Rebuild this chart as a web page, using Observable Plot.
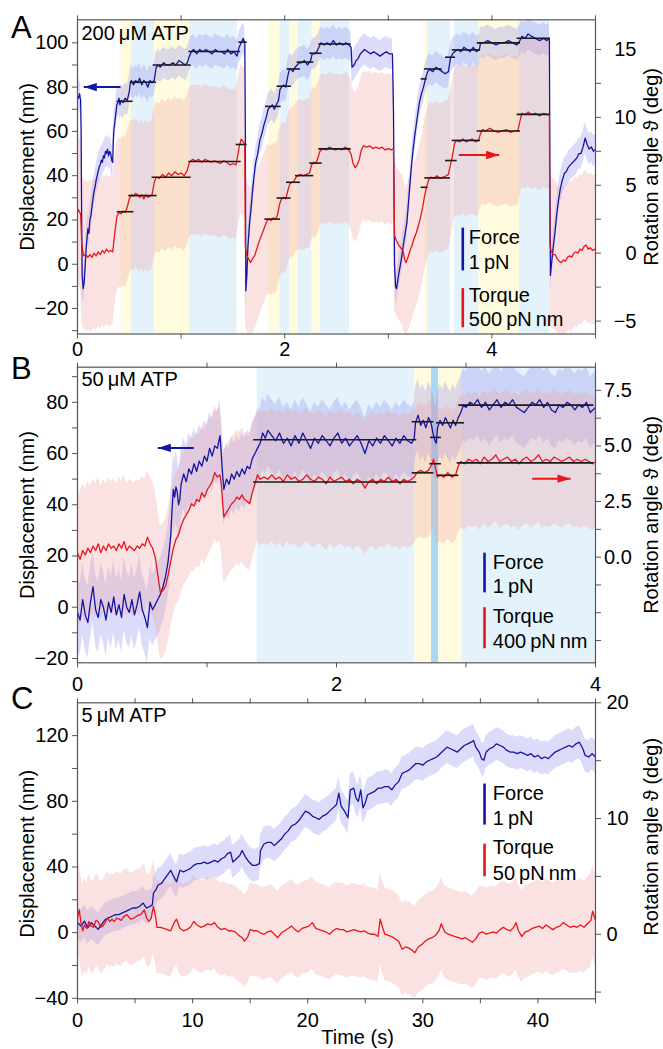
<!DOCTYPE html>
<html><head><meta charset="utf-8">
<script src="https://cdn.jsdelivr.net/npm/d3@7"></script>
<script src="https://cdn.jsdelivr.net/npm/@observablehq/plot@0.6"></script>
<style>
body{margin:0;background:#fff;}
#fig{position:relative;width:663px;height:1049px;overflow:hidden;}
#fig svg{position:absolute;left:0;}
</style></head><body><div id="fig"></div>
<script>
// ---------------- Panel A (200 µM ATP) ----------------
const aSpans = [[0.422,0.521,"y"],[0.521,0.743,"b"],[0.743,1.084,"y"],[1.084,1.541,"b"],[1.846,1.953,"y"],[1.953,2.046,"b"],[2.046,2.13,"y"],[2.13,2.265,"b"],[2.265,2.345,"y"],[2.345,2.625,"b"],[3.353,3.378,"y"],[3.378,3.6,"b"],[3.639,3.874,"b"],[3.874,4.266,"y"],[4.266,4.556,"b"]];
const aForce = [[0,76],[0.01,75],[0.02,77],[0.03,74],[0.035,60],[0.04,20],[0.045,-5],[0.055,-11],[0.065,-8],[0.075,0],[0.085,8],[0.1,16],[0.11,14],[0.12,20],[0.13,22],[0.14,26],[0.15,30],[0.16,33],[0.17,35],[0.18,38],[0.19,40],[0.2,42],[0.21,44],[0.22,45],[0.23,47],[0.24,46],[0.25,49],[0.26,48],[0.27,51],[0.28,50],[0.29,52],[0.3,49],[0.31,51],[0.32,50],[0.33,47],[0.34,46],[0.345,55],[0.35,60],[0.36,64],[0.37,68],[0.38,72],[0.39,73],[0.4,75],[0.41,72],[0.42,74],[0.44,73],[0.46,75],[0.48,74],[0.5,78],[0.51,82],[0.52,83],[0.54,81],[0.56,83],[0.58,82],[0.6,84],[0.62,81],[0.64,83],[0.66,82],[0.68,80],[0.7,83],[0.72,82],[0.74,83],[0.75,86],[0.76,89],[0.78,90],[0.8,89],[0.83,91],[0.86,90],[0.89,90],[0.92,91],[0.95,90],[0.98,92],[1.01,91],[1.04,90],[1.06,91],[1.08,94],[1.1,96],[1.12,97],[1.15,95],[1.18,97],[1.21,96],[1.24,97],[1.27,96],[1.3,95],[1.33,97],[1.36,96],[1.39,96],[1.42,95],[1.45,97],[1.48,95],[1.51,96],[1.54,94],[1.56,98],[1.58,100],[1.6,102],[1.615,100],[1.62,60],[1.625,-12],[1.635,-5],[1.645,8],[1.66,18],[1.675,25],[1.69,33],[1.7,38],[1.72,46],[1.74,50],[1.76,56],[1.78,59],[1.8,63],[1.82,66],[1.84,70],[1.86,71],[1.88,72],[1.9,70],[1.92,72],[1.94,74],[1.955,79],[1.97,80],[1.99,81],[2.01,80],[2.03,85],[2.045,88],[2.06,88],[2.08,87],[2.1,89],[2.12,90],[2.14,91],[2.16,91],[2.19,92],[2.22,90],[2.25,92],[2.265,95],[2.29,95],[2.31,96],[2.33,98],[2.35,100],[2.38,99],[2.41,100],[2.44,99],[2.47,101],[2.5,99],[2.53,100],[2.56,99],[2.59,100],[2.62,99],[2.64,98],[2.65,89],[2.67,90],[2.69,92],[2.71,93],[2.73,95],[2.75,96],[2.77,97],[2.8,96],[2.83,95],[2.86,96],[2.89,95],[2.92,94],[2.95,95],[2.98,96],[3.01,95],[3.04,95],[3.05,70],[3.06,0],[3.07,-10],[3.08,-11],[3.095,-6],[3.11,-2],[3.125,2],[3.14,7],[3.16,13],[3.18,19],[3.195,28],[3.21,37],[3.225,45],[3.24,52],[3.255,58],[3.27,63],[3.285,68],[3.3,73],[3.32,77],[3.34,80],[3.36,84],[3.38,87],[3.4,88],[3.43,87],[3.46,89],[3.49,88],[3.52,87],[3.55,86],[3.58,87],[3.6,93],[3.62,95],[3.64,96],[3.67,97],[3.7,96],[3.73,98],[3.76,97],[3.79,96],[3.82,98],[3.85,96],[3.88,97],[3.89,100],[3.92,100],[3.96,101],[4,100],[4.04,99],[4.08,100],[4.12,100],[4.16,101],[4.2,100],[4.24,99],[4.27,101],[4.29,103],[4.32,102],[4.35,104],[4.38,103],[4.42,102],[4.46,101],[4.5,102],[4.53,101],[4.555,102],[4.56,40],[4.565,-5],[4.575,0],[4.59,7],[4.61,15],[4.625,22],[4.64,28],[4.66,34],[4.68,38],[4.7,41],[4.72,42],[4.74,44],[4.76,45],[4.78,46],[4.8,47],[4.82,48],[4.84,50],[4.86,50],[4.88,53],[4.9,57],[4.92,54],[4.94,52],[4.96,53],[4.98,51],[5,52]];
const aTorque = [[0,3.1],[0.01,3.2],[0.02,3.0],[0.03,2.9],[0.035,2.0],[0.04,0.8],[0.05,0.2],[0.06,-0.2],[0.08,-0.1],[0.1,-0.3],[0.12,-0.1],[0.14,-0.3],[0.16,0],[0.18,-0.2],[0.2,0.1],[0.22,-0.1],[0.24,0.2],[0.26,0],[0.28,0.3],[0.3,0.1],[0.32,0.2],[0.34,0.1],[0.36,1.5],[0.38,2.7],[0.4,3.0],[0.42,2.9],[0.44,3.1],[0.46,3.0],[0.48,3.4],[0.5,4.0],[0.52,4.3],[0.54,4.2],[0.56,4.4],[0.58,4.3],[0.6,4.1],[0.62,4.3],[0.64,4.0],[0.66,4.3],[0.68,4.1],[0.7,4.2],[0.72,4.3],[0.74,5.2],[0.76,5.6],[0.79,5.5],[0.82,5.8],[0.85,5.6],[0.88,5.9],[0.91,5.7],[0.94,6.0],[0.97,5.8],[1,5.9],[1.03,5.7],[1.06,6.1],[1.08,6.7],[1.11,6.9],[1.14,6.8],[1.17,6.9],[1.2,6.7],[1.23,6.9],[1.26,6.8],[1.29,6.7],[1.32,6.8],[1.35,6.7],[1.38,6.6],[1.41,6.8],[1.44,6.7],[1.47,6.5],[1.5,6.6],[1.53,6.5],[1.545,7.1],[1.56,7.8],[1.58,8.4],[1.6,8.2],[1.615,8.0],[1.62,0.5],[1.63,-0.1],[1.65,-0.4],[1.67,-0.7],[1.69,-0.4],[1.71,-0.2],[1.73,0.3],[1.75,0.8],[1.77,1.2],[1.79,1.6],[1.81,2.0],[1.83,2.4],[1.85,2.5],[1.87,2.4],[1.89,2.6],[1.91,2.5],[1.93,2.8],[1.95,3.6],[1.97,4.0],[1.99,4.1],[2.01,4.0],[2.03,4.6],[2.05,5.1],[2.07,5.2],[2.09,5.3],[2.11,5.6],[2.13,5.7],[2.15,5.8],[2.18,5.7],[2.21,5.8],[2.24,5.9],[2.26,6.5],[2.28,6.7],[2.3,6.6],[2.32,7.0],[2.34,7.5],[2.37,7.7],[2.4,7.6],[2.43,7.8],[2.46,7.7],[2.49,7.6],[2.52,7.7],[2.55,7.6],[2.58,7.8],[2.61,7.7],[2.64,7.3],[2.66,6.6],[2.68,6.3],[2.7,6.5],[2.72,6.9],[2.74,7.6],[2.76,7.9],[2.79,7.8],[2.82,7.9],[2.85,7.7],[2.88,7.8],[2.91,7.7],[2.94,7.8],[2.97,7.6],[3,7.7],[3.03,7.6],[3.05,7.7],[3.06,1.3],[3.08,0.9],[3.1,0.6],[3.12,0.4],[3.14,0.2],[3.16,-0.5],[3.17,-0.7],[3.19,-0.3],[3.21,0.2],[3.23,0.6],[3.25,1.1],[3.27,1.5],[3.29,2.0],[3.31,2.6],[3.33,3.3],[3.35,4.2],[3.37,4.9],[3.39,5.4],[3.41,5.6],[3.44,5.5],[3.47,5.7],[3.5,5.5],[3.53,5.6],[3.56,5.7],[3.58,5.8],[3.6,6.5],[3.62,7.2],[3.64,8.1],[3.66,8.3],[3.69,8.2],[3.72,8.4],[3.75,8.2],[3.78,8.3],[3.81,8.4],[3.84,8.2],[3.87,8.3],[3.89,8.8],[3.91,9.1],[3.94,9.0],[3.98,9.2],[4.02,9.0],[4.06,8.9],[4.1,9.0],[4.14,9.1],[4.18,8.9],[4.22,9.0],[4.25,9.0],[4.27,9.7],[4.29,10.3],[4.32,10.2],[4.35,10.4],[4.38,10.2],[4.42,10.3],[4.46,10.1],[4.5,10.3],[4.53,10.2],[4.555,10.2],[4.56,0.6],[4.57,0.2],[4.59,-0.1],[4.61,-0.1],[4.63,-0.4],[4.65,-0.6],[4.67,-0.7],[4.69,-0.5],[4.71,-0.6],[4.73,-0.3],[4.75,-0.2],[4.77,-0.3],[4.79,0],[4.81,0.1],[4.83,0],[4.85,0.3],[4.87,0.2],[4.89,0.5],[4.91,0.6],[4.93,0.3],[4.95,0.4],[4.97,0.2],[5,0.3]];
const aForceSteps = [[0.383,0.537,73.6],[0.511,0.762,82.2],[0.73,1.097,90.0],[1.075,1.573,96.1],[1.557,1.638,100.3],[1.815,1.966,71.3],[1.927,2.066,80.4],[2.024,2.152,88.2],[2.12,2.281,91.3],[2.242,2.361,95.3],[2.329,2.642,99.5],[3.317,3.375,83.7],[3.349,3.52,88.2],[3.552,3.649,93.5],[3.617,3.89,96.8],[3.858,4.276,100.0],[4.244,4.566,102.1]];
const aTorqueSteps = [[0.383,0.544,3.05],[0.495,0.769,4.24],[0.72,1.097,5.59],[1.075,1.58,6.75],[1.532,1.638,8.0],[1.808,1.96,2.51],[1.927,2.062,4.06],[2.017,2.152,5.22],[2.104,2.281,5.71],[2.242,2.361,6.63],[2.329,2.642,7.68],[3.317,3.385,4.85],[3.352,3.6,5.54],[3.552,3.665,6.82],[3.617,3.89,8.3],[3.858,4.276,8.99],[4.244,4.566,10.22]];
const aArrows = [{from:0.415,to:0.061,v:80,side:"left",c:"force"},{from:3.68,to:4.07,v:7.23,side:"right",c:"torque"}];
const aLegendBars = [{t:3.719,v1:16.3,v2:-3.0,c:"force"},{t:3.719,v1:-11,v2:-28.7,c:"torque"}];
const aLegendText = [{t:3.777,v:12.0,s:"Force"},{t:3.777,v:0.7,s:"1\u2009pN"},{t:3.777,v:-14,s:"Torque"},{t:3.777,v:-25.2,s:"500\u2009pN\u2009nm"}];

// ---------------- Panel B (50 µM ATP) ----------------
const bSpans = [[1.388,2.605,"b"],[2.605,2.734,"y"],[2.734,2.79,"d"],[2.79,2.97,"y"],[2.97,4.0,"b"]];
const bForce = [[0,-2],[0.02,-5],[0.04,3],[0.06,-3],[0.08,-6],[0.1,2],[0.12,8],[0.14,-1],[0.16,-4],[0.18,3],[0.2,0],[0.22,-5],[0.24,2],[0.26,-2],[0.28,4],[0.3,-3],[0.32,1],[0.34,-4],[0.36,5],[0.38,0],[0.4,-2],[0.42,3],[0.44,-3],[0.46,1],[0.48,6],[0.5,-1],[0.52,-4],[0.54,-8],[0.56,2],[0.58,-1],[0.6,1],[0.62,3],[0.64,5],[0.66,8],[0.68,12],[0.7,18],[0.72,28],[0.73,38],[0.74,46],[0.75,43],[0.76,47],[0.77,45],[0.78,40],[0.79,42],[0.8,48],[0.82,52],[0.84,49],[0.86,54],[0.88,52],[0.9,56],[0.92,53],[0.94,57],[0.96,55],[0.98,59],[1,57],[1.02,62],[1.04,59],[1.06,63],[1.08,62],[1.1,67],[1.11,60],[1.12,52],[1.13,46],[1.15,50],[1.17,48],[1.19,52],[1.21,50],[1.23,53],[1.25,51],[1.27,54],[1.29,52],[1.31,55],[1.33,54],[1.35,58],[1.37,60],[1.39,62],[1.41,64],[1.43,68],[1.45,66],[1.47,69],[1.5,67],[1.53,65],[1.56,68],[1.59,64],[1.62,66],[1.65,63],[1.68,67],[1.71,64],[1.74,68],[1.77,65],[1.8,62],[1.83,66],[1.86,64],[1.89,67],[1.92,65],[1.95,63],[1.98,66],[2.01,68],[2.04,64],[2.07,66],[2.1,63],[2.13,65],[2.16,67],[2.19,64],[2.22,60],[2.25,65],[2.28,63],[2.31,66],[2.34,64],[2.37,67],[2.4,65],[2.43,63],[2.46,66],[2.49,64],[2.52,67],[2.55,65],[2.58,64],[2.6,66],[2.61,72],[2.63,75],[2.65,71],[2.67,73],[2.69,70],[2.71,74],[2.73,72],[2.745,68],[2.76,65],[2.77,64],[2.78,70],[2.8,73],[2.82,71],[2.84,74],[2.86,72],[2.88,70],[2.9,73],[2.92,71],[2.94,74],[2.96,76],[2.98,79],[3,78],[3.03,80],[3.06,79],[3.09,81],[3.12,78],[3.15,80],[3.18,77],[3.21,79],[3.24,81],[3.27,78],[3.3,80],[3.33,79],[3.36,81],[3.39,78],[3.42,77],[3.45,76],[3.48,78],[3.51,80],[3.54,79],[3.57,81],[3.6,78],[3.63,80],[3.66,77],[3.69,76],[3.72,79],[3.75,78],[3.78,80],[3.81,79],[3.84,77],[3.87,79],[3.9,78],[3.93,80],[3.96,76],[4,78]];
const bTorque = [[0,0.2],[0.02,-0.1],[0.04,0.3],[0.06,0.1],[0.08,0.4],[0.1,0.2],[0.12,0.5],[0.14,0.3],[0.16,0.6],[0.18,0.2],[0.2,0.5],[0.22,0.3],[0.24,0.6],[0.26,0.4],[0.28,0.5],[0.3,0.3],[0.32,0.6],[0.34,0.4],[0.36,0.7],[0.38,0.3],[0.4,0.5],[0.42,0.4],[0.44,0.3],[0.46,0.5],[0.48,0.4],[0.5,0.6],[0.52,0.5],[0.54,0.9],[0.56,0.6],[0.58,0.4],[0.6,0],[0.62,-0.8],[0.64,-1.6],[0.66,-1.5],[0.68,-1.3],[0.7,-0.8],[0.72,-0.2],[0.74,0.4],[0.76,0.8],[0.78,1.0],[0.8,1.4],[0.82,1.7],[0.84,1.9],[0.86,2.1],[0.88,2.4],[0.9,2.3],[0.92,2.6],[0.94,2.5],[0.96,2.9],[0.98,2.7],[1,3.0],[1.02,3.2],[1.04,3.4],[1.06,3.8],[1.08,3.6],[1.1,3.7],[1.11,3.3],[1.12,2.5],[1.13,1.8],[1.15,2.0],[1.17,2.2],[1.19,2.4],[1.21,2.5],[1.23,2.7],[1.25,2.6],[1.27,2.8],[1.29,2.6],[1.31,2.5],[1.33,2.4],[1.35,2.9],[1.37,3.3],[1.39,3.7],[1.41,3.5],[1.44,3.6],[1.47,3.5],[1.5,3.7],[1.53,3.5],[1.56,3.6],[1.59,3.4],[1.62,3.7],[1.65,3.5],[1.68,3.6],[1.71,3.4],[1.74,3.5],[1.77,3.7],[1.8,3.5],[1.83,3.4],[1.86,3.6],[1.89,3.5],[1.92,3.3],[1.95,3.6],[1.98,3.4],[2.01,3.5],[2.04,3.6],[2.07,3.4],[2.1,3.5],[2.13,3.3],[2.16,3.5],[2.19,3.4],[2.22,3.1],[2.25,3.4],[2.28,3.5],[2.31,3.3],[2.34,3.5],[2.37,3.4],[2.4,3.6],[2.43,3.4],[2.46,3.5],[2.49,3.3],[2.52,3.5],[2.55,3.4],[2.58,3.5],[2.6,3.6],[2.62,3.8],[2.65,3.9],[2.68,3.8],[2.71,3.9],[2.73,4.1],[2.75,4.4],[2.765,4.0],[2.78,3.6],[2.8,3.7],[2.83,3.6],[2.86,3.8],[2.89,3.6],[2.92,3.7],[2.94,4.1],[2.96,4.3],[2.99,4.2],[3.02,4.4],[3.05,4.3],[3.08,4.4],[3.11,4.2],[3.14,4.5],[3.17,4.3],[3.2,4.4],[3.23,4.6],[3.26,4.3],[3.29,4.4],[3.32,4.5],[3.35,4.3],[3.38,4.4],[3.41,4.2],[3.44,4.4],[3.47,4.5],[3.5,4.3],[3.53,4.4],[3.56,4.6],[3.59,4.3],[3.62,4.4],[3.65,4.3],[3.68,4.5],[3.71,4.4],[3.74,4.3],[3.77,4.4],[3.8,4.5],[3.83,4.3],[3.86,4.4],[3.89,4.3],[3.92,4.4],[3.95,4.3],[3.98,4.2],[4,4.3]];
const bForceSteps = [[1.36,2.62,65.4],[2.584,2.752,72.4],[2.726,2.81,66.3],[2.772,2.989,72.0],[2.945,3.987,78.9]];
const bTorqueSteps = [[1.36,2.62,3.38],[2.584,2.752,3.79],[2.721,2.81,4.2],[2.777,2.945,3.68],[2.932,3.987,4.24]];
const bArrows = [{from:0.898,to:0.62,v:62.2,side:"left",c:"force"},{from:3.511,to:3.807,v:3.53,side:"right",c:"torque"}];
const bLegendBars = [{t:3.143,v1:21.1,v2:5.6,c:"force"},{t:3.143,v1:-0.2,v2:-16.2,c:"torque"}];
const bLegendText = [{t:3.207,v:17.6,s:"Force"},{t:3.207,v:8.1,s:"1\u2009pN"},{t:3.207,v:-3.6,s:"Torque"},{t:3.207,v:-13.4,s:"400\u2009pN\u2009nm"}];

// ---------------- Panel C (5 µM ATP) ----------------
const cForce = [[0,6],[0.3,4],[0.6,7],[0.9,3],[1.2,6],[1.5,4],[1.8,2],[2.1,5],[2.4,8],[2.7,9],[3,10],[3.3,11],[3.6,11],[3.9,12],[4.2,13],[4.5,14],[4.8,15],[5.1,15],[5.4,16],[5.7,18],[6,15],[6.3,16],[6.5,17],[6.6,24],[6.8,26],[7,29],[7.3,30],[7.6,33],[7.9,36],[8.1,38],[8.3,35],[8.6,31],[8.9,38],[9.2,37],[9.5,38],[9.8,39],[10.1,41],[10.4,42],[10.7,42],[11,43],[11.3,42],[11.6,43],[11.9,44],[12.2,43],[12.5,45],[12.8,46],[13,48],[13.3,49],[13.5,43],[13.8,45],[14.1,47],[14.3,50],[14.6,46],[14.9,43],[15.2,41],[15.5,41],[15.8,42],[15.9,50],[16.2,54],[16.5,55],[16.8,55],[17.1,53],[17.4,55],[17.7,57],[18,60],[18.3,62],[18.6,65],[18.9,66],[19.2,68],[19.5,71],[19.8,74],[20.1,73],[20.4,71],[20.7,70],[21,69],[21.3,71],[21.6,72],[21.9,74],[22.2,76],[22.5,78],[22.7,85],[22.9,77],[23.2,74],[23.5,70],[23.7,87],[24,88],[24.2,82],[24.4,80],[24.6,87],[24.8,76],[25,79],[25.2,84],[25.5,85],[25.8,86],[26.1,88],[26.4,88],[26.7,89],[27,89],[27.3,87],[27.6,90],[27.9,92],[28.2,97],[28.5,98],[28.8,99],[29.1,101],[29.4,103],[29.7,103],[30,102],[30.3,104],[30.6,105],[30.9,106],[31.2,107],[31.5,109],[31.8,111],[32.1,113],[32.4,112],[32.7,111],[33,110],[33.3,112],[33.6,114],[33.9,115],[34.2,116],[34.4,117],[34.6,113],[34.9,110],[35.1,106],[35.3,105],[35.5,110],[35.8,112],[36.1,113],[36.4,115],[36.7,114],[37,113],[37.3,111],[37.6,110],[37.9,110],[38.2,109],[38.5,110],[38.8,109],[39.1,108],[39.4,109],[39.7,107],[40,108],[40.3,106],[40.6,107],[40.9,106],[41.2,108],[41.5,110],[41.8,111],[42.1,112],[42.4,113],[42.7,114],[43,113],[43.3,115],[43.6,116],[43.9,112],[44.1,108],[44.4,107],[44.7,109],[45,107]];
const cTorque = [[0,1.4],[0.15,2.1],[0.3,1.0],[0.45,0.3],[0.6,0.8],[0.8,0.5],[1,1.1],[1.2,0.7],[1.4,0.6],[1.6,1.2],[1.8,1.1],[2,0.6],[2.2,0.7],[2.4,1.0],[2.6,1.4],[2.8,1.1],[3,1.3],[3.2,1.1],[3.4,1.4],[3.6,1.3],[3.8,1.2],[4,1.5],[4.3,1.7],[4.6,1.3],[4.9,1.4],[5.2,1.6],[5.5,1.7],[5.8,2.1],[6,1.4],[6.2,1.1],[6.4,1.4],[6.6,2.4],[6.8,1.4],[6.9,0.6],[7.2,0.6],[7.5,0.5],[7.8,0.4],[8.1,0.3],[8.4,1.0],[8.6,1.3],[8.9,0.5],[9.2,0.3],[9.5,0.4],[9.8,0.6],[10.1,1.1],[10.4,0.8],[10.7,0.6],[11,0.7],[11.3,0.9],[11.6,0.8],[11.9,1.0],[12.2,0.6],[12.5,0.4],[12.8,0.5],[13.1,0.3],[13.4,0.3],[13.7,0.2],[14,-0.1],[14.3,-0.3],[14.5,-0.6],[14.8,-0.2],[15,0.4],[15.3,0.3],[15.6,0.3],[15.9,0.1],[16.2,0],[16.5,0.2],[16.8,0.3],[17.1,0],[17.4,-0.3],[17.7,0.1],[18,0.3],[18.3,0.5],[18.6,0.7],[18.9,0.4],[19.2,0.2],[19.5,0.5],[19.8,0.6],[20.1,0.7],[20.4,1.0],[20.7,0.5],[21,0.4],[21.3,0.3],[21.6,0.2],[21.9,0],[22.2,0.3],[22.5,0.5],[22.8,0.4],[23.1,0.4],[23.4,0.2],[23.7,0.3],[24,0.4],[24.3,0.3],[24.6,0.2],[24.9,0.3],[25.2,0.1],[25.5,0],[25.8,0],[26.1,-0.2],[26.3,1.3],[26.5,0.6],[26.7,0],[27,-0.1],[27.3,-0.2],[27.6,-0.4],[27.9,-0.6],[28.2,-1.3],[28.5,-1.1],[28.8,-1.2],[29.1,-1.4],[29.3,-1.6],[29.6,-1.1],[29.9,-0.9],[30.2,-0.6],[30.5,-0.4],[30.8,-0.3],[31.1,-0.1],[31.4,0.3],[31.6,0.9],[31.9,0.2],[32.2,0],[32.5,-0.1],[32.8,-0.2],[33.1,-0.3],[33.4,-0.4],[33.7,-0.3],[34,-0.5],[34.3,-0.7],[34.6,-0.4],[34.9,0.1],[35.2,0.2],[35.5,0],[35.8,0.1],[36.1,0.2],[36.4,0.1],[36.7,0.4],[37,0.6],[37.3,0.4],[37.6,0.3],[37.9,0.6],[38.1,1.0],[38.3,0.3],[38.6,-0.2],[38.9,0.2],[39.2,0.3],[39.5,0.5],[39.8,0.6],[40.1,0.7],[40.4,0.5],[40.7,0.8],[41,0.6],[41.3,0.4],[41.6,0.6],[41.9,0.7],[42.2,1.0],[42.5,0.8],[42.8,0.6],[43.1,0.7],[43.4,0.6],[43.7,0.8],[44,0.6],[44.3,0.9],[44.6,1.2],[44.75,2.0],[45,1.2]];
const cLegendBars = [{t:35.36,v1:90.5,v2:65.5,c:"force"},{t:35.36,v1:53.9,v2:34,c:"torque"}];
const cLegendText = [{t:36.08,v:84.4,s:"Force"},{t:36.08,v:69.2,s:"1\u2009pN"},{t:36.08,v:51.9,s:"Torque"},{t:36.08,v:36,s:"50\u2009pN\u2009nm"}];

// ---------------- Axis ticks ----------------
const aXTicks = [0,1,2,3,4,5], aXLabels = [0,2,4];
const aLeftTicks = [-30,-20,-10,0,10,20,30,40,50,60,70,80,90,100], aLeftLabels = [-20,0,20,40,60,80,100];
const aRightTicks = [-5,-2.5,0,2.5,5,7.5,10,12.5,15], aRightLabels = [-5,0,5,10,15];
const bXTicks = [0,1,2,3,4], bXLabels = [0,2,4];
const bLeftTicks = [-20,-10,0,10,20,30,40,50,60,70,80,90], bLeftLabels = [-20,0,20,40,60,80];
const bRightTicks = [-3.75,-2.5,-1.25,0,1.25,2.5,3.75,5,6.25,7.5], bRightLabels = [0,2.5,5,7.5];
const cXTicks = [0,5,10,15,20,25,30,35,40,45], cXLabels = [0,10,20,30,40];
const cLeftTicks = [-40,-20,0,20,40,60,80,100,120], cLeftLabels = [-40,0,40,80,120];
const cRightTicks = [-5,0,5,10,15,20], cRightLabels = [0,10,20];

// ---------------- Styling ----------------
const COLORS = {force:"#1515a3", torque:"#e8161b", y:"#fffbdf", b:"#e4f3fb", d:"#a9d8f1"};
const FONT = "'Liberation Sans', Arial, Helvetica, sans-serif";
const minus = s => String(s).replace("-", "\u2212");
const headLeft = {draw(ctx){ctx.moveTo(0,0);ctx.lineTo(13,-4.2);ctx.lineTo(13,4.2);ctx.closePath();}};
const headRight = {draw(ctx){ctx.moveTo(0,0);ctx.lineTo(-13,-4.2);ctx.lineTo(-13,4.2);ctx.closePath();}};

function panel(p) {
  const toNm = d3.scaleLinear(p.rightDomain, p.leftDomain);
  const yv = d => d.side === "right" ? toNm(d.v) : d.v;
  const marks = [];
  if (p.spans) marks.push(Plot.rect(p.spans, {x1: d => d[0], x2: d => d[1], fill: d => COLORS[d[2]]}));
  marks.push(
    Plot.area(p.force, {x1: d => d[0], y1: d => d[1] - p.forceSpread, y2: d => d[1] + p.forceSpread, fill: "#9696f0", fillOpacity: 0.33, clip: true}),
    Plot.area(p.torque, {x1: d => d[0], y1: d => toNm(d[1] - p.torqueSpread), y2: d => toNm(d[1] + p.torqueSpread), fill: "#f0a0a0", fillOpacity: 0.3, clip: true}),
    Plot.line(p.force, {x: d => d[0], y: d => d[1], stroke: COLORS.force, strokeWidth: 1.3, clip: true}),
    Plot.line(p.torque, {x: d => d[0], y: d => toNm(d[1]), stroke: COLORS.torque, strokeWidth: 1.3, clip: true})
  );
  if (p.forceSteps) marks.push(
    Plot.ruleY(p.forceSteps, {x1: d => d[0], x2: d => d[1], y: d => d[2], stroke: "#1a1a1a", strokeWidth: 1.6}),
    Plot.ruleY(p.torqueSteps, {x1: d => d[0], x2: d => d[1], y: d => toNm(d[2]), stroke: "#1a1a1a", strokeWidth: 1.6})
  );
  if (p.arrows) marks.push(
    Plot.link(p.arrows, {x1: d => d.from, x2: d => d.to, y1: yv, y2: yv, stroke: d => COLORS[d.c], strokeWidth: 2}),
    Plot.dot(p.arrows.filter(d => d.to < d.from), {x: d => d.to, y: yv, symbol: headLeft, fill: d => COLORS[d.c], stroke: "none", r: 5}),
    Plot.dot(p.arrows.filter(d => d.to > d.from), {x: d => d.to, y: yv, symbol: headRight, fill: d => COLORS[d.c], stroke: "none", r: 5})
  );
  marks.push(
    Plot.ruleX(p.legendBars, {x: "t", y1: "v1", y2: "v2", stroke: d => COLORS[d.c], strokeWidth: 2.6}),
    Plot.text(p.legendText, {x: "t", y: "v", text: "s", textAnchor: "start", lineAnchor: "middle", fontSize: 20, fill: "#000"}),
    Plot.text([p.atp], {text: d => d, frameAnchor: "top-left", dx: 4, dy: p.atpDy, textAnchor: "start", lineAnchor: "middle", fontSize: 20, fill: "#000"}),
    Plot.text([p.letter], {text: d => d, frameAnchor: "top-left", dx: -66.5, dy: p.letterDy, textAnchor: "start", lineAnchor: "top", fontSize: 31, fill: "#000"}),
    Plot.text(["Displacement (nm)"], {text: d => d, frameAnchor: "left", rotate: -90, dx: -58, dy: p.leftLabelDy, textAnchor: "middle", lineAnchor: "top", fontSize: 20, fill: "#000"}),
    Plot.text(["Rotation angle \u03D1 (deg)"], {text: d => d, frameAnchor: "right", rotate: -90, dx: 48, dy: p.rightLabelDy, textAnchor: "middle", lineAnchor: "top", fontSize: 20, fill: "#000"}),
    Plot.frame({stroke: "#555", strokeWidth: 1.2}),
    Plot.axisX({anchor: "bottom", ticks: p.xTicks, tickFormat: d => p.xLabels.includes(d) ? minus(d) : "", tickSize: 5, tickPadding: p.xPad, stroke: "#555", fill: "#000", fontSize: 20, label: null}),
    Plot.axisX({anchor: "top", ticks: p.xTicks, tickFormat: () => "", tickSize: 5, stroke: "#555", label: null}),
    Plot.axisY({anchor: "left", ticks: p.leftTicks, tickFormat: d => p.leftLabels.includes(d) ? minus(d) : "", tickSize: 5, tickPadding: 4, stroke: "#555", fill: "#000", fontSize: 20, label: null}),
    Plot.axisY({anchor: "right", ticks: p.rightTicks.map(toNm), tickFormat: d => {
        const v = Math.round(toNm.invert(d) * 100) / 100;
        return p.rightLabels.includes(v) ? minus(p.rightFmt(v)) : "";
      }, tickSize: 5, tickPadding: p.rightPad, textAnchor: p.rightAnchor, stroke: "#555", fill: "#000", fontSize: 20, label: null})
  );
  if (p.xTitle) marks.push(Plot.text([p.xTitle], {text: d => d, frameAnchor: "bottom", dx: 21, dy: 31, textAnchor: "middle", lineAnchor: "top", fontSize: 20, fill: "#000"}));
  const svg = Plot.plot({
    width: 663, height: p.height,
    marginLeft: 77, marginRight: 68, marginTop: p.mt, marginBottom: p.mb,
    x: {domain: p.xDomain}, y: {domain: p.leftDomain},
    style: {fontFamily: FONT, fontSize: "20px", background: "transparent", overflow: "visible"},
    marks
  });
  svg.style.top = p.top + "px";
  return svg;
}

const fig = document.getElementById("fig");
fig.appendChild(panel({
  top: 0, height: 360, mt: 19.3, mb: 26.5,
  xDomain: [0, 5], leftDomain: [-31.5, 110.4], rightDomain: [-5.95, 17.18],
  spans: aSpans, force: aForce, torque: aTorque, forceSpread: 7, torqueSpread: 5.5,
  forceSteps: aForceSteps, torqueSteps: aTorqueSteps, arrows: aArrows,
  legendBars: aLegendBars, legendText: aLegendText,
  atp: "200\u2009\u03BCM ATP", atpDy: 14, letter: "A", letterDy: -4.3,
  leftLabelDy: -10, rightLabelDy: -10,
  xTicks: aXTicks, xLabels: aXLabels, xPad: 3,
  leftTicks: aLeftTicks, leftLabels: aLeftLabels,
  rightTicks: aRightTicks, rightLabels: aRightLabels, rightFmt: v => String(v), rightPad: 36, rightAnchor: "end"
}));
fig.appendChild(panel({
  top: 340, height: 345, mt: 26.7, mb: 22.7,
  xDomain: [0, 4], leftDomain: [-21.7, 93.7], rightDomain: [-4.75, 8.54],
  spans: bSpans, force: bForce, torque: bTorque, forceSpread: 14, torqueSpread: 3,
  forceSteps: bForceSteps, torqueSteps: bTorqueSteps, arrows: bArrows,
  legendBars: bLegendBars, legendText: bLegendText,
  atp: "50\u2009\u03BCM ATP", atpDy: 12.6, letter: "B", letterDy: -10,
  leftLabelDy: 0, rightLabelDy: 0,
  xTicks: bXTicks, xLabels: bXLabels, xPad: 9,
  leftTicks: bLeftTicks, leftLabels: bLeftLabels,
  rightTicks: bRightTicks, rightLabels: bRightLabels, rightFmt: v => v.toFixed(1), rightPad: 3.5, rightAnchor: "start"
}));
fig.appendChild(panel({
  top: 670, height: 379, mt: 32.3, mb: 50.7,
  xDomain: [0, 45], leftDomain: [-40.3, 140], rightDomain: [-5.58, 20],
  force: cForce, torque: cTorque, forceSpread: 10, torqueSpread: 4,
  legendBars: cLegendBars, legendText: cLegendText,
  atp: "5\u2009\u03BCM ATP", atpDy: 12.7, letter: "C", letterDy: -15.6,
  leftLabelDy: 3, rightLabelDy: -14,
  xTicks: cXTicks, xLabels: cXLabels, xPad: 9, xTitle: "Time (s)",
  leftTicks: cLeftTicks, leftLabels: cLeftLabels,
  rightTicks: cRightTicks, rightLabels: cRightLabels, rightFmt: v => String(v), rightPad: 6, rightAnchor: "start"
}));
</script></body></html>
